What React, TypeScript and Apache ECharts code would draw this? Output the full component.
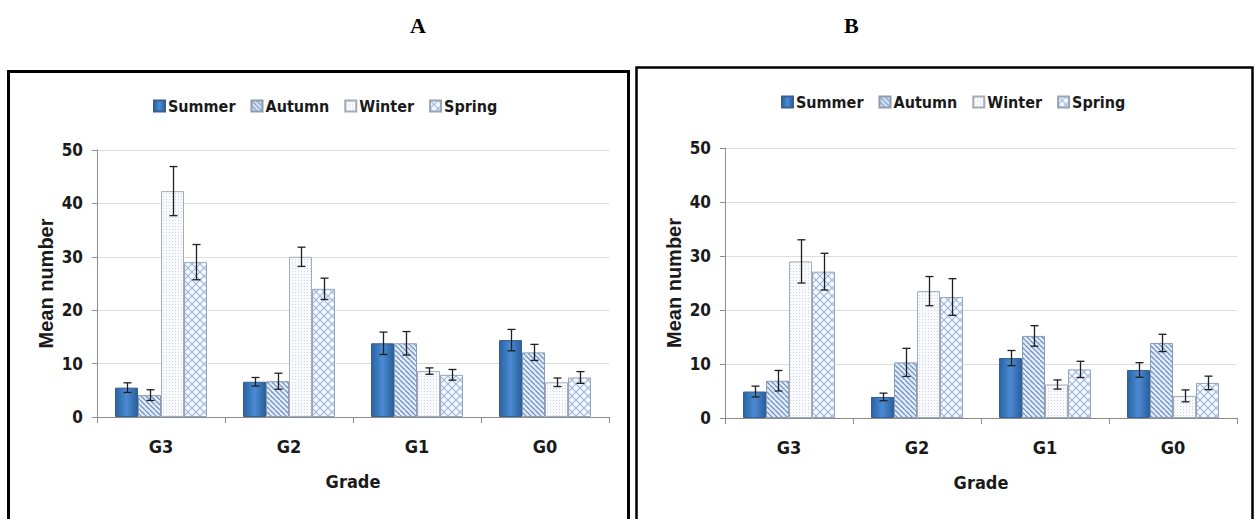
import React, { useEffect, useRef } from "react";
import * as echarts from "echarts";

const categories = ["G3", "G2", "G1", "G0"];
const seasons = ["Summer", "Autumn", "Winter", "Spring"];
const yTicks = [0, 10, 20, 30, 40, 50];

// Panel A means and error half-widths
const summerA = [5.5, 6.6, 13.8, 14.4];
const autumnA = [4.1, 6.7, 13.8, 12.1];
const winterA = [42.3, 30.0, 8.6, 6.5];
const springA = [29.0, 24.0, 7.9, 7.4];
const summerErrA = [0.9, 0.8, 2.1, 2.0];
const autumnErrA = [1.0, 1.5, 2.2, 1.5];
const winterErrA = [4.6, 1.8, 0.6, 0.8];
const springErrA = [3.3, 2.0, 1.0, 1.1];

// Panel B means and error half-widths
const summerB = [4.9, 3.9, 11.1, 8.9];
const autumnB = [6.9, 10.3, 15.2, 13.9];
const winterB = [29.0, 23.5, 6.2, 4.1];
const springB = [27.1, 22.4, 9.0, 6.5];
const summerErrB = [1.0, 0.7, 1.4, 1.35];
const autumnErrB = [1.9, 2.6, 1.9, 1.6];
const winterErrB = [4.0, 2.7, 0.85, 1.1];
const springErrB = [3.4, 3.4, 1.5, 1.25];

const BAR_W = 23;
const LABEL_FONT = "'Liberation Sans Narrow', 'DejaVu Sans Condensed', sans-serif";

function makePattern(kind: string) {
  const c = document.createElement("canvas");
  const ctx = c.getContext("2d") as CanvasRenderingContext2D;
  if (kind === "autumn") {
    const n = 5;
    c.width = n; c.height = n;
    ctx.fillStyle = "#e4edf8";
    ctx.fillRect(0, 0, n, n);
    ctx.strokeStyle = "#6f93c6";
    ctx.lineWidth = 1.3;
    for (const k of [-n, 0, n]) {
      ctx.beginPath();
      ctx.moveTo(k, 0);
      ctx.lineTo(k + n, n);
      ctx.stroke();
    }
  } else if (kind === "winter") {
    const n = 3;
    c.width = n; c.height = n;
    ctx.fillStyle = "#f8fafd";
    ctx.fillRect(0, 0, n, n);
    ctx.fillStyle = "#cdd5e0";
    ctx.fillRect(1, 1, 1, 1);
  } else {
    const n = 8;
    c.width = n; c.height = n;
    ctx.fillStyle = "#f5f8fd";
    ctx.fillRect(0, 0, n, n);
    ctx.strokeStyle = "#9db7dc";
    ctx.lineWidth = 1.2;
    for (const k of [-n, 0, n]) {
      ctx.beginPath();
      ctx.moveTo(k, 0);
      ctx.lineTo(k + n, n);
      ctx.stroke();
      ctx.beginPath();
      ctx.moveTo(k, n);
      ctx.lineTo(k + n, 0);
      ctx.stroke();
    }
  }
  return { image: c, repeat: "repeat" } as any;
}

export default function App() {
  const ref = useRef<HTMLDivElement>(null);

  useEffect(() => {
    document.body.style.margin = "0";
    if (!ref.current) return;
    const chart = echarts.init(ref.current, undefined, { renderer: "svg" });

    const summerColor = new echarts.graphic.LinearGradient(0, 0, 1, 0, [
      { offset: 0, color: "#2b62a6" },
      { offset: 0.5, color: "#4b8bd2" },
      { offset: 1, color: "#2a5f9f" },
    ]);
    const styles = [
      { color: summerColor, borderColor: "#35608f", borderWidth: 1 },
      { color: makePattern("autumn"), borderColor: "#8d9bb0", borderWidth: 1 },
      { color: makePattern("winter"), borderColor: "#a3abb6", borderWidth: 1 },
      { color: makePattern("spring"), borderColor: "#97a4b6", borderWidth: 1 },
    ];

    const panels = [
      { means: [summerA, autumnA, winterA, springA], errs: [summerErrA, autumnErrA, winterErrA, springErrA] },
      { means: [summerB, autumnB, winterB, springB], errs: [summerErrB, autumnErrB, winterErrB, springErrB] },
    ];

    const grids = [
      { left: 97, top: 150, width: 512, height: 267 },
      { left: 725, top: 148, width: 512, height: 270 },
    ];

    const xAxes = grids.map((_, i) => ({
      type: "category",
      gridIndex: i,
      data: categories,
      name: "Grade",
      nameLocation: "middle",
      nameGap: 55,
      nameTextStyle: { fontFamily: LABEL_FONT, fontWeight: "bold", fontSize: 18, color: "#1a1a1a" },
      axisLine: { lineStyle: { color: "#8c8c8c", width: 1 } },
      axisTick: { show: true, length: 6, alignWithLabel: false, lineStyle: { color: "#8c8c8c" } },
      axisLabel: { fontFamily: LABEL_FONT, fontWeight: "bold", fontSize: 18, color: "#1a1a1a", margin: 20 },
    }));

    const yAxes = grids.map((_, i) => ({
      type: "value",
      gridIndex: i,
      min: yTicks[0],
      max: yTicks[yTicks.length - 1],
      interval: 10,
      name: "Mean number",
      nameLocation: "middle",
      nameRotate: 90,
      nameGap: 41,
      nameTextStyle: { fontFamily: "'Liberation Sans', Arial, sans-serif", fontWeight: "bold", fontSize: 20, color: "#1a1a1a" },
      axisLine: { show: true, lineStyle: { color: "#8c8c8c", width: 1 } },
      axisTick: { show: true, length: 5, lineStyle: { color: "#8c8c8c" } },
      axisLabel: { fontFamily: LABEL_FONT, fontWeight: "bold", fontSize: 17, color: "#1a1a1a", margin: 14 },
      splitLine: { show: true, lineStyle: { color: "#dcdcdc", width: 1 } },
    }));

    const series: any[] = [];
    panels.forEach((p, pi) => {
      seasons.forEach((s, si) => {
        series.push({
          type: "bar",
          name: s,
          xAxisIndex: pi,
          yAxisIndex: pi,
          barWidth: BAR_W,
          barGap: "0%",
          data: p.means[si],
          itemStyle: styles[si],
          emphasis: { disabled: true },
        });
      });
      const errData: number[][] = [];
      seasons.forEach((_, si) => {
        categories.forEach((_, ci) => {
          const m = p.means[si][ci];
          const e = p.errs[si][ci];
          errData.push([ci, si, m - e, m + e]);
        });
      });
      series.push({
        type: "custom",
        name: "err" + pi,
        xAxisIndex: pi,
        yAxisIndex: pi,
        z: 10,
        encode: { x: 0, y: [2, 3] },
        data: errData,
        renderItem: (params: any, api: any) => {
          const ci = api.value(0);
          const si = api.value(1);
          const lo = api.coord([ci, api.value(2)]);
          const hi = api.coord([ci, api.value(3)]);
          const x = Math.round(lo[0] + (si - 1.5) * BAR_W) + 0.5;
          const cap = 4;
          const st = { stroke: "#1f1f1f", lineWidth: 1.3 };
          return {
            type: "group",
            children: [
              { type: "line", shape: { x1: x, y1: lo[1], x2: x, y2: hi[1] }, style: st },
              { type: "line", shape: { x1: x - cap, y1: hi[1], x2: x + cap, y2: hi[1] }, style: st },
              { type: "line", shape: { x1: x - cap, y1: lo[1], x2: x + cap, y2: lo[1] }, style: st },
            ],
          };
        },
      });
    });

    const legendCommon = {
      data: seasons,
      icon: "rect",
      itemWidth: 11,
      itemHeight: 11,
      itemGap: 15,
      selectedMode: false,
      textStyle: { fontFamily: LABEL_FONT, fontWeight: "bold", fontSize: 16, color: "#1a1a1a", padding: [0, 0, 0, -2] },
    };

    chart.setOption({
      animation: false,
      backgroundColor: "#ffffff",
      grid: grids,
      xAxis: xAxes,
      yAxis: yAxes,
      legend: [
        { ...legendCommon, left: 148, top: 93 },
        { ...legendCommon, left: 776, top: 89 },
      ],
      series,
      graphic: [
        { type: "text", left: 410, top: 14, style: { text: "A", font: "bold 22px 'Liberation Serif', 'Times New Roman', serif", fill: "#000" } },
        { type: "text", left: 844, top: 14, style: { text: "B", font: "bold 22px 'Liberation Serif', 'Times New Roman', serif", fill: "#000" } },
        { type: "rect", shape: { x: 8.5, y: 71.5, width: 620, height: 470 }, style: { fill: "none", stroke: "#000", lineWidth: 3 }, silent: true },
        { type: "rect", shape: { x: 636.5, y: 67.5, width: 616, height: 470 }, style: { fill: "none", stroke: "#000", lineWidth: 2.5 }, silent: true },
      ],
    });

    return () => chart.dispose();
  }, []);

  return <div ref={ref} style={{ width: 1256, height: 519 }} />;
}
